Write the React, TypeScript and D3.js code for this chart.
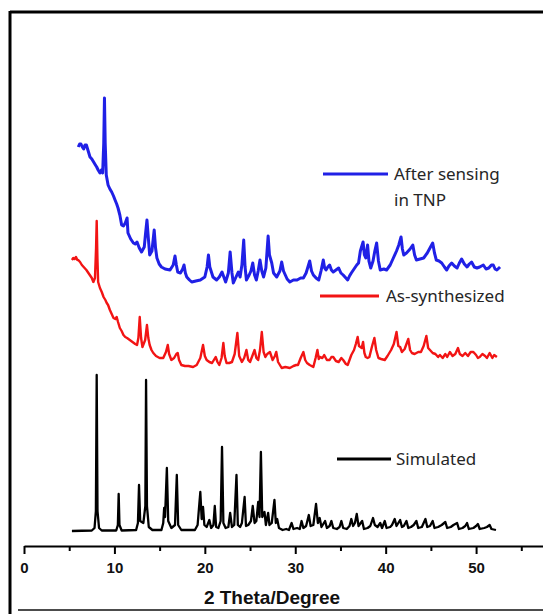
import { useEffect, useRef } from "react";
import * as d3 from "d3";

// 2θ (degree) vs intensity (a.u., each trace above its own baseline)
const simulated: [number, number][] = [
  [5.3, 0], [7.5, 0.5], [7.8, 3], [7.95, 20], [8.04, 156], [8.13, 20], [8.3, 3], [8.6, 0.5],
  [10.2, 0.5], [10.38, 6], [10.47, 37], [10.56, 6], [10.8, 0.5],
  [12.4, 1], [12.6, 8], [12.72, 46], [12.85, 10], [13.2, 8], [13.42, 25], [13.5, 151], [13.6, 25], [13.8, 4], [14.2, 1],
  [15.2, 1], [15.4, 8], [15.5, 23], [15.6, 14], [15.8, 63], [15.95, 10], [16.3, 3], [16.7, 6], [16.9, 56], [17.05, 6], [17.4, 1],
  [18.9, 1], [19.2, 6], [19.5, 39], [19.65, 12], [19.8, 24], [19.95, 6], [20.2, 4], [20.5, 11], [20.7, 3], [20.95, 6],
  [21.1, 25], [21.25, 4], [21.5, 3], [21.75, 10], [21.9, 84], [22.05, 8], [22.3, 3], [22.6, 4], [22.8, 18], [23.0, 4],
  [23.25, 6], [23.5, 56], [23.65, 6], [23.9, 4], [24.1, 8], [24.4, 34], [24.55, 5], [24.8, 6], [25.1, 10], [25.3, 25],
  [25.5, 8], [25.7, 10], [25.9, 29], [26.05, 14], [26.2, 79], [26.35, 14], [26.6, 19], [26.75, 6], [27.0, 18], [27.15, 6],
  [27.4, 8], [27.7, 31], [27.85, 8], [28.0, 12], [28.2, 3], [28.6, 1], [29.0, 2], [29.3, 1], [29.6, 8], [29.8, 2],
  [30.2, 3], [30.5, 2], [30.7, 10], [30.9, 3], [31.2, 5], [31.5, 16], [31.7, 5], [32.0, 6], [32.3, 27], [32.5, 8],
  [32.7, 13], [32.9, 4], [33.3, 10], [33.5, 3], [33.8, 5], [34.0, 10], [34.2, 3], [34.6, 2], [34.9, 4], [35.1, 10],
  [35.3, 3], [35.7, 2], [36.0, 5], [36.2, 12], [36.4, 5], [36.6, 8], [36.8, 17], [37.0, 5], [37.4, 10], [37.6, 2],
  [38.0, 3], [38.3, 5], [38.6, 13], [38.8, 6], [39.1, 4], [39.4, 8], [39.6, 3], [39.9, 10], [40.1, 3], [40.5, 4],
  [40.7, 6], [41.0, 12], [41.2, 5], [41.6, 11], [41.8, 4], [42.0, 5], [42.3, 10], [42.5, 3], [42.8, 4], [43.1, 6],
  [43.4, 10], [43.6, 3], [44.0, 4], [44.4, 12], [44.6, 4], [44.9, 5], [45.2, 10], [45.4, 3], [45.8, 4], [46.2, 6],
  [46.6, 9], [46.8, 3], [47.2, 4], [47.5, 6], [47.9, 8], [48.1, 2], [48.5, 3], [48.8, 5], [49.0, 8], [49.2, 2],
  [49.7, 3], [50.0, 5], [50.2, 7], [50.4, 2], [50.9, 3], [51.2, 4], [51.5, 6], [51.7, 2], [52.2, 1],
];

const asSynthesized: [number, number][] = [
  [5.3, 108], [5.45, 110], [5.6, 109], [5.75, 111], [5.9, 108], [6.0, 108], [6.2, 106], [6.4, 103], [6.7, 100],
  [6.9, 98], [7.2, 94], [7.5, 90], [7.67, 86], [7.85, 90], [7.97, 120], [8.04, 147], [8.12, 110], [8.2, 86],
  [8.4, 80], [8.6, 76], [8.8, 71], [9.0, 68], [9.15, 65], [9.3, 63], [9.5, 58], [9.7, 54], [9.9, 50], [10.1, 49],
  [10.25, 51], [10.4, 46], [10.6, 40], [10.8, 37], [11.0, 33], [11.2, 31], [11.4, 30], [11.7, 28], [12.0, 26],
  [12.3, 24], [12.5, 23], [12.65, 30], [12.8, 51], [12.95, 30], [13.1, 21], [13.4, 28], [13.6, 43], [13.75, 30],
  [13.9, 23], [14.1, 18], [14.3, 15], [14.6, 12], [15.0, 10], [15.4, 10], [15.7, 16], [15.9, 23], [16.05, 14],
  [16.3, 8], [16.6, 10], [16.85, 14], [17.0, 15], [17.15, 8], [17.4, 3], [17.8, 2], [18.2, 2], [18.7, 1], [19.1, 3],
  [19.5, 10], [19.8, 23], [20.0, 12], [20.2, 8], [20.5, 6], [20.8, 5], [21.0, 8], [21.2, 11], [21.4, 6], [21.6, 3],
  [21.85, 10], [22.05, 25], [22.2, 12], [22.4, 5], [22.7, 5], [23.0, 6], [23.3, 14], [23.6, 35], [23.8, 12],
  [24.1, 6], [24.35, 10], [24.6, 18], [24.8, 8], [25.0, 6], [25.25, 12], [25.5, 18], [25.7, 10], [25.9, 8],
  [26.1, 18], [26.3, 36], [26.5, 16], [26.7, 11], [26.9, 14], [27.2, 16], [27.5, 8], [27.75, 12], [27.9, 16],
  [28.1, 6], [28.5, 0], [28.9, 1], [29.4, 0], [29.8, 2], [30.1, 3], [30.3, 3], [30.6, 10], [30.9, 16], [31.1, 8],
  [31.3, 5], [31.6, 3], [32.0, 1], [32.25, 10], [32.45, 18], [32.6, 9], [32.7, 11], [33.0, 10], [33.2, 13],
  [33.5, 8], [33.8, 8], [34.0, 11], [34.2, 11], [34.5, 7], [34.8, 6], [35.1, 10], [35.3, 8], [35.6, 4], [35.8, 3],
  [36.0, 8], [36.2, 13], [36.5, 18], [36.7, 24], [36.9, 31], [37.05, 22], [37.2, 21], [37.35, 20], [37.5, 26],
  [37.65, 15], [37.8, 11], [38.0, 10], [38.2, 11], [38.5, 22], [38.75, 30], [38.95, 18], [39.2, 10], [39.5, 9],
  [39.9, 8], [40.2, 12], [40.6, 18], [40.9, 24], [41.2, 36], [41.4, 22], [41.6, 21], [41.8, 16], [42.1, 19],
  [42.5, 29], [42.7, 18], [42.9, 15], [43.2, 14], [43.6, 16], [43.9, 16], [44.2, 22], [44.5, 32], [44.7, 20],
  [44.9, 18], [45.2, 15], [45.5, 14], [45.8, 11], [46.0, 13], [46.3, 10], [46.6, 14], [46.8, 11], [47.1, 16],
  [47.4, 12], [47.7, 14], [48.0, 20], [48.2, 14], [48.5, 12], [48.8, 15], [49.1, 12], [49.4, 16], [49.7, 16],
  [50.0, 13], [50.2, 10], [50.4, 11], [50.7, 14], [51.0, 12], [51.2, 10], [51.5, 15], [51.8, 10], [52.0, 13], [52.3, 11],
];

const afterTNP: [number, number][] = [
  [6.0, 136], [6.15, 139], [6.3, 139], [6.45, 136], [6.6, 134], [6.75, 138], [6.9, 138], [7.1, 132], [7.3, 126],
  [7.5, 124], [7.7, 121], [7.9, 118], [8.04, 116], [8.2, 113], [8.4, 110], [8.55, 113], [8.7, 110], [8.82, 140],
  [8.9, 185], [8.98, 140], [9.1, 108], [9.3, 98], [9.5, 94], [9.7, 91], [9.9, 87], [10.07, 83], [10.25, 79],
  [10.4, 75], [10.6, 68], [10.8, 58], [11.0, 57], [11.2, 60], [11.4, 65], [11.5, 50], [11.8, 44], [12.1, 40],
  [12.3, 39], [12.5, 41], [12.75, 35], [13.0, 31], [13.3, 36], [13.45, 50], [13.6, 63], [13.75, 45], [13.9, 28],
  [14.15, 32], [14.4, 53], [14.55, 35], [14.7, 25], [14.95, 19], [15.2, 16], [15.6, 14], [16.15, 13], [16.5, 18],
  [16.7, 27], [16.85, 18], [17.0, 11], [17.3, 10], [17.55, 14], [17.7, 18], [17.85, 10], [18.0, 6], [18.3, 3],
  [18.55, 1], [19.0, 2], [19.5, 3], [20.0, 6], [20.25, 16], [20.4, 28], [20.55, 16], [20.9, 6], [21.3, 3],
  [21.6, 6], [21.9, 11], [22.1, 6], [22.3, 1], [22.6, 10], [22.8, 31], [23.0, 10], [23.15, 0], [23.45, 6],
  [23.7, 11], [23.9, 6], [24.1, 18], [24.3, 43], [24.45, 16], [24.6, 3], [24.9, 8], [25.1, 12], [25.3, 20],
  [25.5, 8], [25.7, 3], [25.9, 12], [26.1, 23], [26.3, 12], [26.5, 6], [26.75, 15], [27.0, 47], [27.15, 28],
  [27.4, 20], [27.6, 10], [27.95, 6], [28.3, 12], [28.5, 21], [28.7, 12], [28.9, 8], [29.1, 4], [29.4, 1],
  [29.8, 3], [30.2, 3], [30.6, 5], [30.9, 5], [31.2, 10], [31.4, 16], [31.6, 22], [31.8, 12], [32.0, 8],
  [32.3, 5], [32.6, 3], [32.85, 12], [33.1, 23], [33.25, 15], [33.4, 13], [33.6, 16], [33.8, 18], [34.0, 13],
  [34.2, 11], [34.5, 13], [34.8, 15], [35.05, 10], [35.3, 8], [35.6, 5], [35.8, 3], [36.0, 7], [36.2, 10],
  [36.5, 14], [36.8, 18], [37.0, 20], [37.2, 32], [37.5, 41], [37.65, 28], [37.8, 25], [38.0, 38], [38.15, 22],
  [38.35, 15], [38.6, 22], [38.8, 32], [39.0, 40], [39.2, 22], [39.4, 13], [39.8, 14], [40.1, 13], [40.5, 18],
  [40.85, 25], [41.2, 32], [41.45, 38], [41.7, 46], [41.85, 34], [42.0, 28], [42.3, 30], [42.7, 34], [43.0, 38],
  [43.2, 28], [43.4, 23], [43.8, 24], [44.2, 25], [44.6, 30], [44.9, 35], [45.2, 40], [45.4, 30], [45.6, 23],
  [45.9, 22], [46.2, 20], [46.5, 16], [46.75, 13], [47.0, 17], [47.3, 20], [47.6, 17], [47.9, 15], [48.15, 20],
  [48.4, 24], [48.7, 19], [49.0, 16], [49.25, 19], [49.5, 21], [49.8, 16], [50.1, 15], [50.4, 16], [50.8, 18],
  [51.1, 14], [51.4, 15], [51.7, 18], [51.9, 18], [52.1, 14], [52.3, 13], [52.65, 16],
];

const majorTicks = [0, 10, 20, 30, 40, 50];
const minorTicks = [5, 15, 25, 35, 45, 55];
const xTitle = "2 Theta/Degree";

const W = 543;
const H = 614;

function App() {
  const ref = useRef<SVGSVGElement>(null);

  useEffect(() => {
    const svg = d3.select(ref.current);
    svg.selectAll("*").remove();

    const x = d3.scaleLinear().domain([0, 57.4]).range([24, 543]);
    const y = d3.scaleLinear().domain([0, 460]).range([531, 71]);

    // frame
    svg.append("line").attr("x1", 10).attr("x2", W).attr("y1", 12).attr("y2", 12)
      .attr("stroke", "#000").attr("stroke-width", 3);
    svg.append("line").attr("x1", 10).attr("x2", 10).attr("y1", 11).attr("y2", H)
      .attr("stroke", "#000").attr("stroke-width", 3);
    svg.append("line").attr("x1", 18).attr("x2", W).attr("y1", 610).attr("y2", 610)
      .attr("stroke", "#111").attr("stroke-width", 1.5);

    const series = [
      { data: simulated, offset: 0, color: "#000000", width: 2.3 },
      { data: asSynthesized, offset: 163, color: "#f21414", width: 2.4 },
      { data: afterTNP, offset: 248, color: "#2020e6", width: 3 },
    ];

    series.forEach((s) => {
      const line = d3
        .line<[number, number]>()
        .x((d) => x(d[0]))
        .y((d) => y(d[1] + s.offset));
      svg.append("path")
        .datum(s.data)
        .attr("d", line)
        .attr("fill", "none")
        .attr("stroke", s.color)
        .attr("stroke-width", s.width)
        .attr("stroke-linejoin", "round");
    });

    // x axis
    const axisY = 546;
    const gMinor = svg.append("g").attr("transform", `translate(0,${axisY})`);
    gMinor.call(d3.axisBottom(x).tickValues(minorTicks).tickSize(5).tickSizeOuter(0).tickFormat(() => ""));
    gMinor.select(".domain").remove();
    gMinor.selectAll("line").attr("stroke-width", 2);

    const gMajor = svg.append("g").attr("transform", `translate(0,${axisY})`);
    gMajor.call(
      d3.axisBottom(x).tickValues(majorTicks).tickSize(8).tickSizeOuter(0).tickPadding(8).tickFormat(d3.format("d"))
    );
    gMajor.select(".domain").attr("stroke-width", 2);
    gMajor.selectAll("line").attr("stroke-width", 2);
    gMajor.selectAll("text")
      .attr("font-family", "'Liberation Sans', Arial, sans-serif")
      .attr("font-weight", "bold")
      .attr("font-size", 15)
      .attr("fill", "#111");

    svg.append("text")
      .attr("x", 272).attr("y", 604)
      .attr("text-anchor", "middle")
      .attr("font-family", "'Liberation Sans', Arial, sans-serif")
      .attr("font-weight", "bold")
      .attr("font-size", 19)
      .attr("fill", "#111")
      .text(xTitle);

    // legend entries placed beside each trace
    const legend = [
      { x1: 323, x2: 388, y: 174, color: "#2020e6", lines: ["After sensing", "in TNP"], tx: 394 },
      { x1: 320, x2: 379, y: 296, color: "#f21414", lines: ["As-synthesized"], tx: 386 },
      { x1: 337, x2: 391, y: 459, color: "#000000", lines: ["Simulated"], tx: 396 },
    ];
    legend.forEach((l) => {
      svg.append("line").attr("x1", l.x1).attr("x2", l.x2).attr("y1", l.y).attr("y2", l.y)
        .attr("stroke", l.color).attr("stroke-width", 3);
      l.lines.forEach((t, i) => {
        svg.append("text")
          .attr("x", l.tx).attr("y", l.y + 6 + i * 26)
          .attr("font-family", "'Noto Sans', 'Open Sans', sans-serif")
          .attr("font-size", 17)
          .attr("fill", "#262626")
          .text(t);
      });
    });
  }, []);

  return (
    <div style={{ position: "absolute", left: 0, top: 0 }}>
      <svg ref={ref} width={W} height={H} style={{ display: "block", background: "#fff" }} />
    </div>
  );
}

export default App;
